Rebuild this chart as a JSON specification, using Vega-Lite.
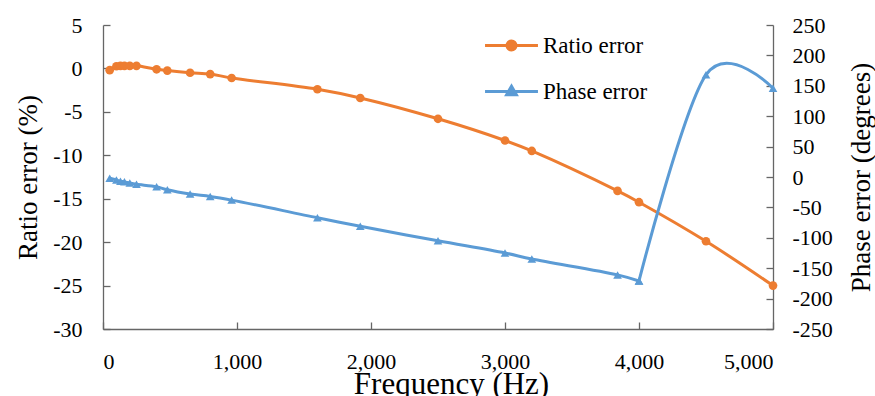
{
  "$schema": "https://vega.github.io/schema/vega-lite/v6.json",
  "autosize": {"type": "none"},
  "padding": {"left": 103, "top": 25, "right": 102, "bottom": 67},
  "width": 670,
  "height": 304,
  "background": "white",
  "data": {
    "values": [
      {"f": 50, "ratio": -0.2, "phase": -2},
      {"f": 100, "ratio": 0.25, "phase": -5},
      {"f": 130, "ratio": 0.3, "phase": -7},
      {"f": 160, "ratio": 0.3, "phase": -8},
      {"f": 200, "ratio": 0.3, "phase": -10},
      {"f": 250, "ratio": 0.3, "phase": -12},
      {"f": 400, "ratio": -0.1, "phase": -16},
      {"f": 480, "ratio": -0.25, "phase": -21},
      {"f": 650, "ratio": -0.5, "phase": -28},
      {"f": 800, "ratio": -0.65, "phase": -32},
      {"f": 960, "ratio": -1.1, "phase": -38},
      {"f": 1600, "ratio": -2.4, "phase": -67},
      {"f": 1920, "ratio": -3.4, "phase": -81},
      {"f": 2500, "ratio": -5.8, "phase": -105},
      {"f": 3000, "ratio": -8.3, "phase": -125},
      {"f": 3200, "ratio": -9.5, "phase": -135},
      {"f": 3840, "ratio": -14.1, "phase": -161},
      {"f": 4000, "ratio": -15.4, "phase": -171},
      {"f": 4500, "ratio": -19.9, "phase": 168},
      {"f": 5000, "ratio": -25.0, "phase": 146}
    ]
  },
  "encoding": {
    "x": {
      "field": "f", "type": "quantitative",
      "scale": {"domain": [0, 5000], "nice": false, "zero": false},
      "axis": {
        "title": "Frequency (Hz)",
        "values": [0, 1000, 2000, 3000, 4000, 5000],
        "format": ",.0f",
        "labelPadding": 46,
        "labelBaseline": "alphabetic",
        "titleY": 64,
        "titleX": 348,
        "titleBaseline": "alphabetic",
        "titleFontSize": 31
      }
    }
  },
  "layer": [
    {
      "mark": {
        "type": "line", "interpolate": "catmull-rom", "strokeWidth": 3,
        "point": {"filled": true, "shape": "circle", "size": 75}
      },
      "encoding": {
        "y": {
          "field": "ratio", "type": "quantitative",
          "scale": {"domain": [-30, 5], "nice": false, "zero": false},
          "axis": {
            "orient": "left",
            "title": "Ratio error (%)",
            "values": [-30, -25, -20, -15, -10, -5, 0, 5],
            "labelExpr": "datum.value < 0 ? '-' + format(-datum.value, 'd') : format(datum.value, 'd')",
            "labelPadding": 28,
            "titleX": -75,
            "titleBaseline": "middle",
            "titleAngle": -90
          }
        },
        "color": {
          "datum": "Ratio error",
          "scale": {"domain": ["Ratio error", "Phase error"], "range": ["#ED7D31", "#5B9BD5"]},
          "legend": {
            "title": null,
            "orient": "none",
            "legendX": 396.5,
            "legendY": 8.5,
            "padding": 0,
            "symbolSize": 441,
            "symbolStrokeWidth": 3,
            "labelOffset": 19.5,
            "labelFontSize": 23,
            "labelFont": "Liberation Serif",
            "labelColor": "#000000",
            "rowPadding": 22,
            "encode": {
              "symbols": {
                "update": {
                  "shape": {"signal": "datum.value == 'Ratio error' ? 'M-2.52,0H2.52M-0.43,0A0.43,0.43,0,1,1,0.43,0A0.43,0.43,0,1,1,-0.43,0Z' : 'M-2.52,0H2.52M0,-0.5L0.46,0.3L-0.46,0.3Z'"},
                  "fill": {"signal": "datum.value == 'Ratio error' ? '#ED7D31' : '#5B9BD5'"},
                  "stroke": {"signal": "datum.value == 'Ratio error' ? '#ED7D31' : '#5B9BD5'"},
                  "strokeWidth": {"value": 3},
                  "opacity": {"value": 1}
                }
              }
            }
          }
        }
      }
    },
    {
      "encoding": {
        "y": {
          "field": "phase", "type": "quantitative",
          "scale": {"domain": [-250, 250], "nice": false, "zero": false},
          "axis": {
            "orient": "right",
            "title": "Phase error (degrees)",
            "values": [-250, -200, -150, -100, -50, 0, 50, 100, 150, 200, 250],
            "labelExpr": "datum.value < 0 ? '-' + format(-datum.value, 'd') : format(datum.value, 'd')",
            "labelOverlap": false,
            "labelPadding": 26,
            "titleX": 88,
            "titleBaseline": "middle",
            "titleAngle": -90
          }
        },
        "color": {"datum": "Phase error"}
      },
      "layer": [
        {
          "transform": [{"filter": "datum.f <= 4000"}],
          "mark": {
            "type": "line", "interpolate": "catmull-rom", "strokeWidth": 3,
            "point": {"filled": true, "shape": "triangle-up", "size": 75}
          }
        },
        {
          "transform": [{"filter": "datum.f >= 4000"}],
          "mark": {
            "type": "line", "interpolate": "cardinal", "tension": 0, "strokeWidth": 3,
            "point": {"filled": true, "shape": "triangle-up", "size": 75}
          }
        }
      ]
    }
  ],
  "resolve": {"scale": {"y": "independent"}},
  "config": {
    "view": {"stroke": null},
    "font": "Liberation Serif",
    "axis": {
      "grid": false,
      "labelOverlap": false,
      "tickSize": -7,
      "tickColor": "#666666",
      "tickWidth": 1.3,
      "domainColor": "#666666",
      "domainWidth": 1.3,
      "labelFont": "Liberation Serif",
      "labelFontSize": 22,
      "labelColor": "#000000",
      "titleFont": "Liberation Serif",
      "titleFontSize": 27,
      "titleFontWeight": "normal",
      "titleColor": "#000000"
    }
  }
}
